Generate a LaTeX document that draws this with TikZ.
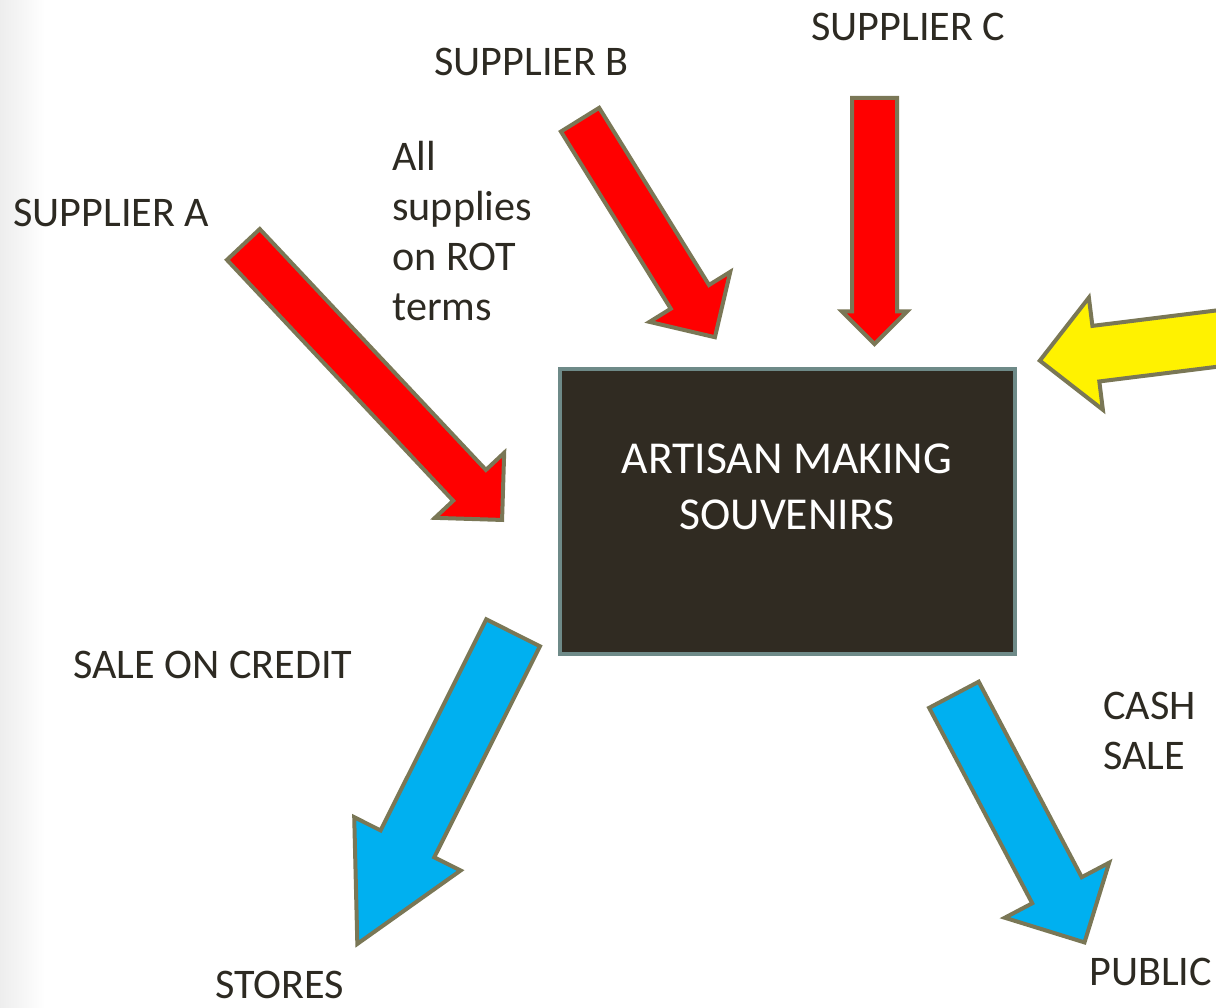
\documentclass[tikz,border=0pt]{standalone}
\usepackage{fontspec}
\setmainfont{Carlito}
\usetikzlibrary{shapes.arrows}

\definecolor{ink}{HTML}{2D2A22}
\definecolor{edge}{HTML}{7A7756}
\definecolor{boxfill}{HTML}{302B22}
\definecolor{boxedge}{HTML}{6E8A88}
\definecolor{cyanblue}{HTML}{00B0F0}

\begin{document}
\begin{tikzpicture}[x=0.02cm, y=-0.02cm,
        every node/.style={inner sep=0pt, text=ink, font=\fontsize{24}{28.5}\selectfont},
        caption/.style={anchor=west, align=left},
        blockarrow/.style n args={3}{single arrow, draw=edge, line width=0.08cm,
            inner xsep=0pt, inner ysep=#1, single arrow head extend=#2,
            minimum height=#3, single arrow tip angle=90},
        artisanbox/.style={draw=boxedge, fill=boxfill, line width=0.09cm,
            minimum width=9.1cm, minimum height=5.7cm}
    ]
        \useasboundingbox (0,0) rectangle (1216,1007);
        \clip (0,0) rectangle (1216,1007);
        \fill[left color=black!7, right color=white] (0,0) rectangle (45,1007);

        % the workshop in the middle
        \node[artisanbox] (artisan) at (787.5,511.5) {};
        \node[text=white, align=center, font=\fontsize{26}{31.5}\selectfont]
            (artisantext) at (787,487) {ARTISAN MAKING\\SOUVENIRS};

        % supplies coming in
        \node[blockarrow={0.41cm}{0.5cm}{7.56cm}, fill=red, rotate=-46.8, anchor=tail]
            (arrowA) at (242,243) {};
        \node[blockarrow={0.41cm}{0.5cm}{5.12cm}, fill=red, rotate=-58.2, anchor=tail]
            (arrowB) at (579,118) {};
        \node[blockarrow={0.41cm}{0.2cm}{4.92cm}, fill=red, rotate=-90, anchor=tail]
            (arrowC) at (874.5,96) {};
        \node[blockarrow={0.52cm}{0.57cm}{6cm}, fill=yellow, rotate=187.1, anchor=tip]
            (arrowD) at (1037,361) {};

        % sales going out
        \node[blockarrow={0.56cm}{0.59cm}{6.96cm}, fill=cyanblue, rotate=243.4,
            single arrow tip angle=56, anchor=tail] (arrowE) at (514,631) {};
        \node[blockarrow={0.52cm}{0.62cm}{5.6cm}, fill=cyanblue, rotate=-62.2, anchor=tail]
            (arrowF) at (953,693) {};

        % labels
        \node[caption] (supplierA) at (13,213) {SUPPLIER A};
        \node[caption] (supplierB) at (434,62) {SUPPLIER B};
        \node[caption] (supplierC) at (811,27) {SUPPLIER C};
        \node[caption] (terms) at (392,231) {All\\supplies\\on ROT\\terms};
        \node[caption] (credit) at (73,665) {SALE ON CREDIT};
        \node[caption] (cash) at (1103,731) {CASH\\SALE};
        \node[caption] (stores) at (215,985) {STORES};
        \node[caption] (public) at (1089,971.5) {PUBLIC};
    \end{tikzpicture}
\end{document}
